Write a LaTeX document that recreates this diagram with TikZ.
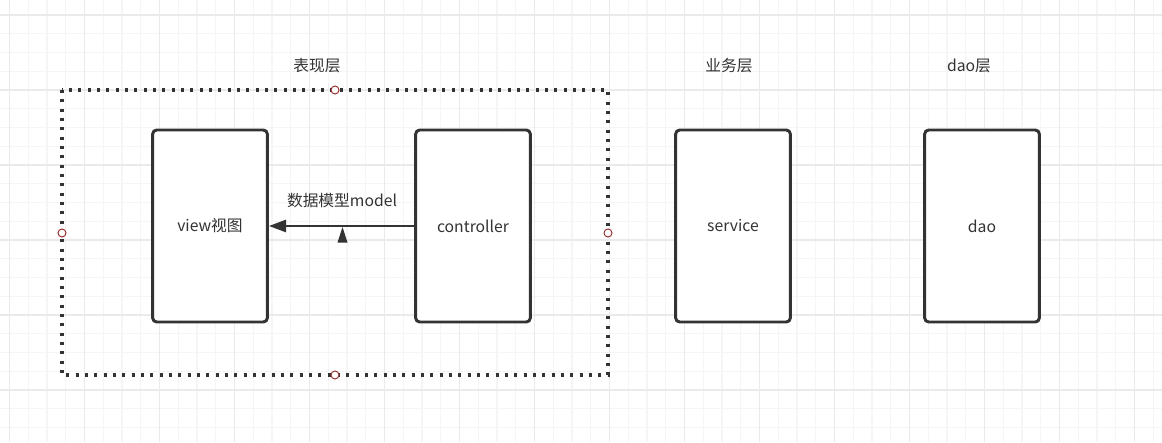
\documentclass[tikz,border=0pt]{standalone}
\usepackage{fontspec}
\setmainfont{Noto Sans CJK SC}
\usetikzlibrary{arrows.meta}
\definecolor{gridminor}{RGB}{245,245,245}
\definecolor{gridmajor}{RGB}{234,234,234}
\definecolor{dgreycolor}{RGB}{51,51,51}
\definecolor{dredcolor}{RGB}{150,40,40}

\begin{document}
\begin{tikzpicture}[x=0.75pt,y=-0.75pt,
    font=\fontsize{11.8pt}{14pt}\selectfont,
    layer/.style={draw=dgreycolor,line width=2.2pt,rounded corners=3pt,fill=white,
      minimum width=86pt,minimum height=144pt,inner sep=0pt,text=dgreycolor},
    handle/.style={draw=dredcolor,line width=0.7pt,fill=white}]
  \useasboundingbox (0,0) rectangle (1162,442);
  % grid
  \foreach \i in {0,...,61} { \draw[gridminor,line width=0.8pt] (9.5+18.75*\i,0) -- (9.5+18.75*\i,442); }
  \foreach \j in {0,...,22} { \draw[gridminor,line width=0.8pt] (0,15+18.75*\j) -- (1162,15+18.75*\j); }
  \foreach \i in {0,...,15} { \draw[gridmajor,line width=0.8pt] (9.5+75*\i,0) -- (9.5+75*\i,442); }
  \foreach \j in {0,...,5} { \draw[gridmajor,line width=0.8pt] (0,15+75*\j) -- (1162,15+75*\j); }
  % layers
  \node[text=dgreycolor] (tl1) at (317,66) {表现层};
  \node[text=dgreycolor] (tl2) at (729,66) {业务层};
  \node[text=dgreycolor] (tl3) at (969,66) {dao层};
  \draw[dgreycolor,line width=2.3pt,dash pattern=on 2.3pt off 4.7pt] (62,90) rectangle (608,375);
  \foreach \p in {(335,90),(62,233),(608,233),(335,375)} { \draw[handle] \p circle (4); }
  \node[layer] (view) at (210,226) {view视图};
  \node[layer] (ctrl) at (473,226) {controller};
  \node[layer] (srv) at (733,226) {service};
  \node[layer] (dao) at (982,226) {dao};
  % model
  \draw[dgreycolor,line width=2.2pt,-{Triangle[length=13pt,width=9pt]}] (ctrl) -- (view);
  \node[text=dgreycolor] (model) at (342,201) {数据模型model};
  \fill[dgreycolor] (342.5,227) -- (347.5,242.5) -- (337.5,242.5) -- cycle;
\end{tikzpicture}
\end{document}
